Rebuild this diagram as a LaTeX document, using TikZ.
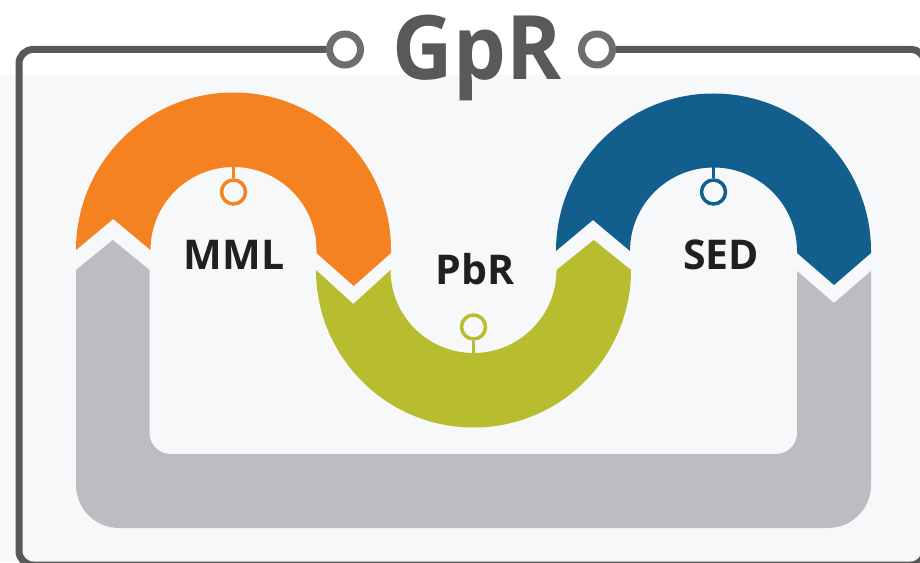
\documentclass[tikz,border=0pt]{standalone}
\usepackage{fontspec}
\setmainfont{Open Sans}
\definecolor{pagebg}{HTML}{F7F8FA}
\definecolor{framegray}{HTML}{58595B}
\definecolor{ringgray}{HTML}{6D6E71}
\definecolor{bandgray}{HTML}{BCBDC0}
\definecolor{mmlorange}{HTML}{F58220}
\definecolor{pbrgreen}{HTML}{B8BD30}
\definecolor{sedblue}{HTML}{125E8C}
\definecolor{labeltext}{HTML}{231F20}

\begin{document}
\begin{tikzpicture}[
    x=1pt, y=1pt,
    frame/.style={draw=framegray, line width=7pt},
    titlering/.style={circle, draw=ringgray, fill=white, line width=7pt, inner sep=0pt, minimum size=31pt},
    ring/.style={circle, draw=#1, line width=3.5pt, inner sep=0pt, minimum size=24pt},
    stem/.style={draw=#1, line width=3pt},
    label/.style={text=labeltext, font=\bfseries\fontsize{41}{41}\selectfont, anchor=base}
]
\useasboundingbox (0,0) rectangle (920,562);

% Background
\fill[white] (0,0) rectangle (920,562);
\fill[pagebg] (0,0) rectangle (920,487);

% Title and frame
\node[titlering] (t1) at (345,512.5) {};
\node[titlering] (t2) at (597,512.5) {};
\node[text=framegray, font=\bfseries\fontsize{89}{89}\selectfont, anchor=base, xscale=0.94] (title) at (477,482) {GpR};
\draw[frame, rounded corners=14pt] (t1.west) -| (19,-3) -| (925,512.5) -- (t2.east);

% Gray U band
\fill[bandgray] (76,292) -- (112.75,322) -- (149.5,292) -- (149.5,129)
    arc[start angle=180, end angle=270, radius=21pt] -- (776,108)
    arc[start angle=270, end angle=360, radius=21pt] -- (797,291) -- (834,259) -- (871,291) -- (871,77)
    arc[start angle=0, end angle=-90, radius=43pt] -- (119,34)
    arc[start angle=270, end angle=180, radius=43pt] -- cycle;

% Orange arc
\fill[mmlorange] (76,312) arc[start angle=180, end angle=0, radius=157.5pt] -- (391,309) -- (353.75,276) -- (316.5,309) -- (316.5,312)
    arc[start angle=0, end angle=180, radius=83pt] -- (113.25,343) -- cycle;

% Green arc
\fill[pbrgreen] (316,292) arc[start angle=180, end angle=360, radius=157.5pt] -- (593.75,322) -- (556.5,292)
    arc[start angle=0, end angle=-180, radius=83pt] -- (353.25,258) -- cycle;

% Blue arc
\fill[sedblue] (556,311) arc[start angle=180, end angle=0, radius=157.5pt] -- (871,309) -- (834,277) -- (797,309) -- (797,311)
    arc[start angle=0, end angle=180, radius=83.5pt] -- (593,342) -- cycle;

% Markers
\node[ring=mmlorange] (m1) at (233.5,370) {};
\node[ring=pbrgreen] (m2) at (473.5,235) {};
\node[ring=sedblue] (m3) at (713.5,370) {};
\coordinate (s1) at (233.5,395);
\coordinate (s2) at (473.5,209);
\coordinate (s3) at (713.5,394.5);
\draw[stem=mmlorange] (s1) -- (m1.north);
\draw[stem=pbrgreen] (s2) -- (m2.south);
\draw[stem=sedblue] (s3) -- (m3.north);

% Labels
\node[label] (mml) at (234,292) {MML};
\node[label] (pbr) at (475,277) {PbR};
\node[label] (sed) at (721,292) {SED};

\end{tikzpicture}
\end{document}
